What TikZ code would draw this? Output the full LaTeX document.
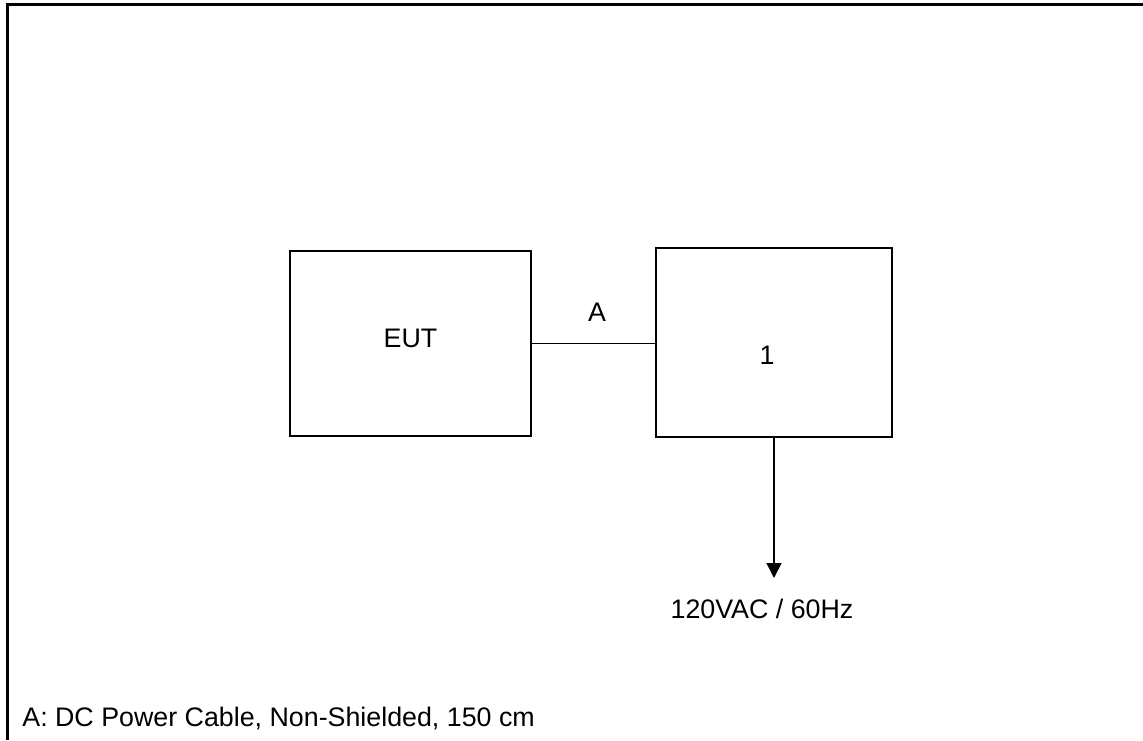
\documentclass[tikz,border=0pt]{standalone}
\usepackage{fontspec}
\setmainfont{Liberation Sans}
\usetikzlibrary{arrows.meta}

\tikzset{
  unitbox/.style={draw, line width=0.75pt, inner sep=0pt},
  cable/.style={line width=0.75pt},
  feed/.style={line width=0.75pt, -{Triangle[width=7.5pt,length=7.5pt]}},
  frame/.style={line width=1.5pt}
}

\begin{document}
\begin{tikzpicture}[x=0.5pt, y=-0.5pt, font=\fontsize{13.4}{16}\selectfont]
    \useasboundingbox (0,0) rectangle (1143,740);
    % Frame (top and left only)
    \draw[frame] (1143,4) -- (7,4) -- (7,740);

    % Units
    \node[unitbox, minimum width=120.5pt, minimum height=92.5pt] (eut) at (410.5,343.5) {};
    \node (eutlabel) at (410.5,338) {EUT};
    \node[unitbox, minimum width=118pt, minimum height=94.5pt] (dev) at (774,342.5) {};
    \node (devlabel) at (767,355) {1};

    % Cable A
    \draw[cable] (eut.east) -- (eut.east -| dev.west);
    \node (cablea) at (597,312) {A};

    % Mains supply
    \coordinate (mainsend) at (774,578);
    \draw[feed] (dev.south) -- (mainsend);
    \node (mains) at (762,609) {120VAC / 60Hz};

    % Legend
    \node[anchor=west, inner sep=0pt] (legend) at (22,718) {A: DC Power Cable, Non-Shielded, 150 cm};
\end{tikzpicture}
\end{document}
